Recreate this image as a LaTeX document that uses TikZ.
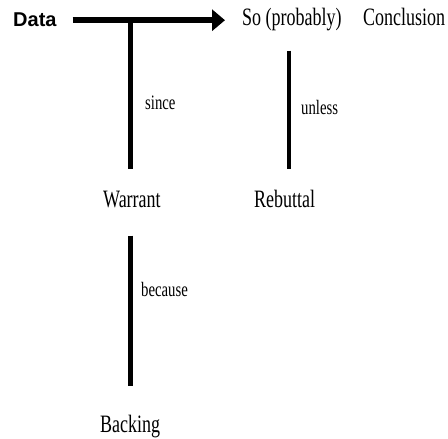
\documentclass[tikz,border=0pt]{standalone}
\usepackage{fontspec}
\setmainfont{Liberation Serif}[FakeStretch=0.72]
\setsansfont{Liberation Sans}
\usepackage{tikz}
\usetikzlibrary{arrows.meta}
\tikzstyle{node_main} = [inner sep=0pt, anchor=base west, font=\fontsize{25}{28}\selectfont]
\tikzstyle{node_data} = [inner sep=0pt, anchor=base west, font=\sffamily\bfseries\fontsize{20}{24}\selectfont]
\tikzstyle{node_small} = [inner sep=0pt, anchor=base west, font=\fontsize{20.5}{24}\selectfont]
\tikzstyle{edge_link} = [line width=4.5pt]
\tikzstyle{edge_arrow} = [line width=6pt, -{Triangle[length=13pt,width=21pt]}]

\begin{document}
\begin{tikzpicture}[x=1pt, y=-1pt]
			\useasboundingbox (0,0) rectangle (448,439);
			\node (data) at (13,27) [node_data] {Data};
			\node (so) at (242,26) [node_main] {So (probably)};
			\node (concl) at (363,26) [node_main] {Conclusion};
			\node (warrant) at (103,207) [node_main] {Warrant};
			\node (rebut) at (254,207) [node_main] {Rebuttal};
			\node (backing) at (100,432) [node_main] {Backing};
			\node (since) at (145,109) [node_small] {since};
			\node (unless) at (301,114) [node_small] {unless};
			\node (because) at (141,296) [node_small] {because};
			\draw[edge_arrow, shorten <=16pt, shorten >=17pt] (data.east) -- (data.east -| so.west);
			\draw[edge_link, shorten >=21pt] ([xshift=-1.5pt]warrant.north |- data.east) -- ([xshift=-1.5pt]warrant.north);
			\draw[edge_link, shorten <=19pt, shorten >=20.5pt] ([xshift=4.5pt]rebut.north |- so.south) -- ([xshift=4.5pt]rebut.north);
			\draw[edge_link, shorten <=28pt, shorten >=28pt] ([xshift=-1.5pt]warrant.south) -- ([xshift=-1.5pt]backing.north -| warrant.south);
		\end{tikzpicture}
\end{document}
